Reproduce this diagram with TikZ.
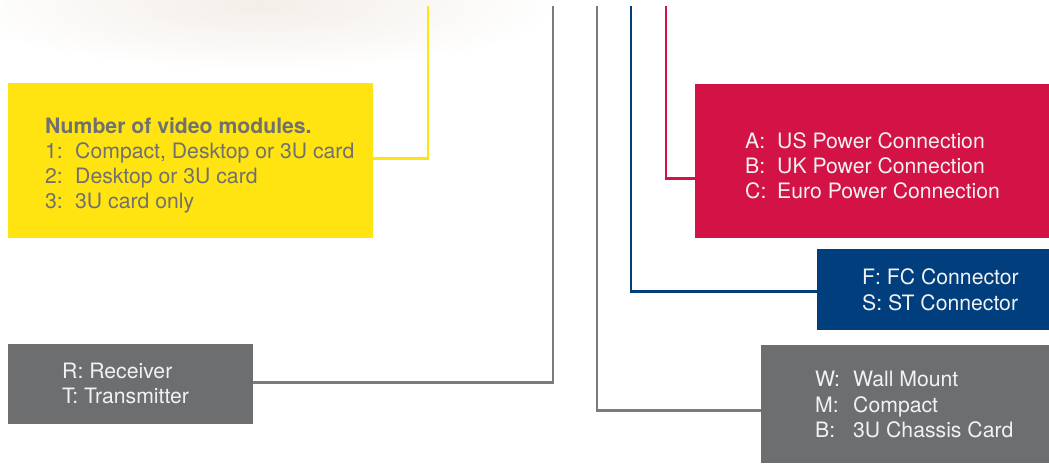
\documentclass[tikz,border=0pt]{standalone}
\usepackage{fontspec}
\setmainfont{TeX Gyre Heros}
\usetikzlibrary{fadings}
\definecolor{vyellow}{HTML}{FFE411}
\definecolor{vred}{HTML}{D31245}
\definecolor{vblue}{HTML}{003E7E}
\definecolor{vgrey}{HTML}{6D6E70}
\definecolor{lgrey}{HTML}{7B7B7D}
\definecolor{ytext}{HTML}{707072}
\definecolor{btext}{HTML}{F2F2F2}
\definecolor{beige}{HTML}{F3EEE8}
\tikzfading[name=glow, inner color=transparent!0, outer color=transparent!100]
\tikzset{
  box/.style={rectangle, draw=none, inner sep=0pt, anchor=north west},
  txt/.style={anchor=base west, inner sep=0pt, font=\fontsize{21.2}{25.3}\selectfont},
  conn/.style={line width=2.8pt},
}
\begin{document}
\begin{tikzpicture}[x=1pt,y=-1pt]
\useasboundingbox (0,0) rectangle (1049,463);
% faint photo remnant
\fill[beige, path fading=glow] (-40,-60) rectangle (560,70);
% boxes
\node[box, fill=vyellow, minimum width=365pt, minimum height=155pt] (vid) at (8,83) {};
\node[box, fill=vred, minimum width=354pt, minimum height=154pt] (pwr) at (695,84) {};
\node[box, fill=vblue, minimum width=232pt, minimum height=81pt] (fib) at (817,249) {};
\node[box, fill=vgrey, minimum width=245pt, minimum height=80pt] (rt) at (8,344) {};
\node[box, fill=vgrey, minimum width=288pt, minimum height=118pt] (mnt) at (761,345) {};
% texts
\node[txt, text=ytext] (vidt) at (45,133) {\begin{tabular}[t]{@{}p{30pt}@{}l@{}}
\multicolumn{2}{@{}l@{}}{\bfseries Number of video modules.}\\
1: & Compact, Desktop or 3U card\\
2: & Desktop or 3U card\\
3: & 3U card only
\end{tabular}};
\node[txt, text=btext] (pwrt) at (745,148.3) {\begin{tabular}[t]{@{}p{32pt}@{}l@{}}
A: & US Power Connection\\
B: & UK Power Connection\\
C: & Euro Power Connection
\end{tabular}};
\node[txt, text=btext] (fibt) at (862,284.7) {\begin{tabular}[t]{@{}l@{}}
F: FC Connector\\
S: ST Connector
\end{tabular}};
\node[txt, text=btext] (rtt) at (62,378) {\begin{tabular}[t]{@{}l@{}}
R: Receiver\\
T: Transmitter
\end{tabular}};
\node[txt, text=btext] (mntt) at (815,386.7) {\begin{tabular}[t]{@{}p{38pt}@{}l@{}}
W: & Wall Mount\\
M: & Compact\\
B: & 3U Chassis Card
\end{tabular}};
% connector tops
\coordinate (ytop) at (428,6);
\coordinate (g1top) at (553,6);
\coordinate (g2top) at (597,6);
\coordinate (btop) at (631,6);
\coordinate (rtop) at (666,6);
% connectors
\draw[conn, vyellow] (ytop) |- ([yshift=2.5pt]vid.east);
\draw[conn, lgrey] (g1top) |- ([yshift=2pt]rt.east);
\draw[conn, lgrey] (g2top) |- ([yshift=-6pt]mnt.west);
\draw[conn, vblue] (btop) |- ([yshift=-1.5pt]fib.west);
\draw[conn, vred] (rtop) |- ([yshift=-17pt]pwr.west);
\end{tikzpicture}
\end{document}
